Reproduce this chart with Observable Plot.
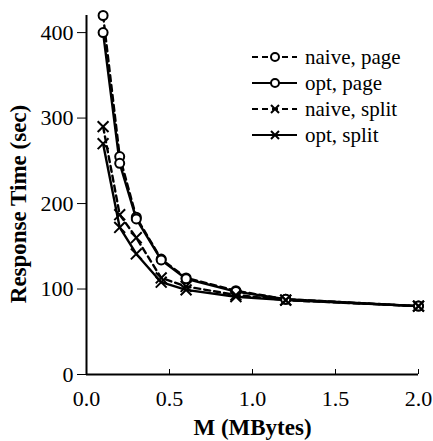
<!DOCTYPE html>
<html>
<head>
<meta charset="utf-8">
<script src="https://cdn.jsdelivr.net/npm/d3@7"></script>
<script src="https://cdn.jsdelivr.net/npm/@observablehq/plot@0.6"></script>
<style>
  html, body { margin: 0; padding: 0; background: #fff; }
  #wrap { position: relative; width: 433px; height: 441px; font-family: "Liberation Serif", "Times New Roman", serif; }
  #legend { position: absolute; left: 250px; top: 44px; }
  svg { overflow: visible; }
</style>
</head>
<body>
<div id="wrap"><div id="chart"></div><div id="legend"></div></div>
<script>
const memory = [0.1, 0.2, 0.3, 0.45, 0.6, 0.9, 1.2, 2.0];
const naivePage  = [420, 255, 184, 135, 113, 98, 88, 80];
const optPage    = [400, 247, 182, 134, 112, 97, 88, 80];
const naiveSplit = [290, 187, 160, 113, 103, 93, 87, 80];
const optSplit   = [270, 172, 141, 108, 99, 91, 87, 80];
const seriesNames = ["naive, page", "opt, page", "naive, split", "opt, split"];
const xTicks = [0, 0.5, 1.0, 1.5, 2.0];
const yTicks = [0, 100, 200, 300, 400];

const FONT = "'Liberation Serif', 'Times New Roman', serif";
const seriesValues = [naivePage, optPage, naiveSplit, optSplit];
const seriesStyle = {
  "naive, page":  {dash: "6,4", symbol: "circle"},
  "opt, page":    {dash: null,  symbol: "circle"},
  "naive, split": {dash: "6,4", symbol: "times"},
  "opt, split":   {dash: null,  symbol: "times"}
};
const rows = seriesNames.flatMap((s, i) => memory.map((m, j) => ({series: s, m, t: seriesValues[i][j]})));

const marks = [
  Plot.ruleY([0], {stroke: "black", strokeWidth: 2}),
  Plot.ruleX([0], {stroke: "black", strokeWidth: 2}),
  Plot.axisY({ticks: yTicks, tickSize: 9, tickPadding: 4, fontSize: 22, label: null, tickFormat: d => d}),
  Plot.axisX({ticks: xTicks, tickSize: -5, tickPadding: 21, fontSize: 22, label: null, tickFormat: d3.format(".1f")}),
  Plot.text(["Response Time (sec)"], {frameAnchor: "left", textAnchor: "middle", rotate: -90, dx: -68, dy: 9, fontSize: 23, fontWeight: "bold", text: d => d}),
  Plot.text(["M (MBytes)"], {frameAnchor: "bottom", textAnchor: "middle", dy: 60, fontSize: 23, fontWeight: "bold", text: d => d})
];
for (const s of seriesNames) {
  const data = rows.filter(r => r.series === s);
  marks.push(Plot.line(data, {x: "m", y: "t", stroke: "black", strokeWidth: 2.4, strokeDasharray: seriesStyle[s].dash}));
}
for (const s of seriesNames) {
  const data = rows.filter(r => r.series === s);
  const st = seriesStyle[s];
  marks.push(Plot.dot(data, {x: "m", y: "t", symbol: st.symbol, r: st.symbol === "circle" ? 4.5 : 5,
    stroke: "black", strokeWidth: 2, fill: st.symbol === "circle" ? "white" : "none"}));
}

const chart = Plot.plot({
  width: 433, height: 441,
  marginLeft: 86, marginRight: 15, marginTop: 15, marginBottom: 67,
  style: {fontFamily: FONT, color: "black", background: "white"},
  x: {domain: [0, 2]},
  y: {domain: [0, 420]},
  marks
});
document.getElementById("chart").appendChild(chart);

// legend
const lg = d3.select("#legend").append("svg").attr("width", 180).attr("height", 110);
seriesNames.forEach((s, i) => {
  const st = seriesStyle[s];
  const g = lg.append("g").attr("transform", `translate(0,${13 + i * 26})`);
  g.append("line").attr("x1", 2).attr("x2", 47).attr("y1", 0).attr("y2", 0)
    .attr("stroke", "black").attr("stroke-width", 2).attr("stroke-dasharray", st.dash);
  if (st.symbol === "circle") {
    g.append("circle").attr("cx", 25).attr("cy", 0).attr("r", 4).attr("fill", "white").attr("stroke", "black").attr("stroke-width", 2);
  } else {
    g.append("path").attr("d", "M21,-4L29,4M21,4L29,-4").attr("stroke", "black").attr("stroke-width", 2);
  }
  g.append("text").attr("x", 55).attr("y", 0).attr("dy", "0.32em").attr("font-size", 21)
    .attr("font-family", FONT).text(s);
});
</script>
</body>
</html>
